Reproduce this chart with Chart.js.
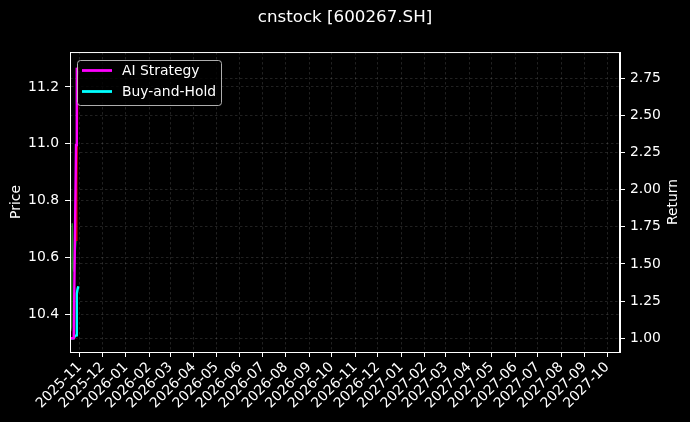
<!DOCTYPE html>
<html>
<head>
<meta charset="utf-8">
<title>cnstock [600267.SH]</title>
<script src="https://cdn.jsdelivr.net/npm/chart.js@4.4.1/dist/chart.umd.min.js"></script>
<style>
  html, body { margin: 0; padding: 0; background: #000; }
  #wrap { width: 690px; height: 422px; }
</style>
</head>
<body>
<div id="wrap"><canvas id="chart" width="690" height="422"></canvas></div>
<script>
// Data
const dates = ["2025-10-20", "2025-10-21", "2025-10-22", "2025-10-23", "2025-10-24",
               "2025-10-27", "2025-10-28", "2025-10-29", "2025-10-30"];
const aiStrategy = [1.00, 1.00, 1.00, 1.00, 1.02, 2.30, 2.82, 2.78, 2.80];
const buyHold = [1.00, 1.00, 1.00, 1.00, 1.00, 1.02, 1.30, 1.33, 1.35];
const price = [10.34, 10.36, 10.72, 10.58, 10.55, 10.66, 10.85, 11.13, 11.27];

const monthLabels = ["2025-11", "2025-12", "2026-01", "2026-02", "2026-03", "2026-04",
  "2026-05", "2026-06", "2026-07", "2026-08", "2026-09", "2026-10", "2026-11", "2026-12",
  "2027-01", "2027-02", "2027-03", "2027-04", "2027-05", "2027-06", "2027-07", "2027-08",
  "2027-09", "2027-10"];
const priceTicks = [10.4, 10.6, 10.8, 11.0, 11.2];
const priceTickLabels = ["10.4", "10.6", "10.8", "11.0", "11.2"];
const returnTicks = [1.00, 1.25, 1.50, 1.75, 2.00, 2.25, 2.50, 2.75];
const returnTickLabels = ["1.00", "1.25", "1.50", "1.75", "2.00", "2.25", "2.50", "2.75"];

const DAY = 86400000;
const toDay = (s) => Date.parse(s + "T00:00:00Z") / DAY;

const FONT = "'DejaVu Sans', sans-serif";
const GRID = "rgba(255,255,255,0.22)";

// Top spine, right axis label (matplotlib reads bottom-to-top) and legend inside the axes
const framePlugin = {
  id: "frame",
  afterDatasetsDraw(chart) {
    const { ctx, chartArea: a } = chart;
    ctx.save();
    ctx.strokeStyle = "#fff";
    ctx.lineWidth = 1;
    ctx.strokeRect(a.left + 0.5, a.top + 0.5, a.right - a.left - 1, a.bottom - a.top);
    ctx.restore();
  },
  afterDraw(chart) {
    const { ctx, chartArea: a } = chart;
    ctx.save();
    ctx.font = "13.9px " + FONT;
    ctx.fillStyle = "#fff";
    ctx.translate(673, (a.top + a.bottom) / 2);
    ctx.rotate(-Math.PI / 2);
    ctx.textAlign = "center";
    ctx.textBaseline = "middle";
    ctx.fillText("Return", 0, 0);
    ctx.restore();

    const items = chart.data.datasets.filter((d) => d.label !== "Price");
    ctx.save();
    ctx.beginPath();
    ctx.roundRect(77.5, 60.5, 144, 45, 3);
    ctx.fillStyle = "rgba(0,0,0,0.8)";
    ctx.fill();
    ctx.strokeStyle = "rgba(204,204,204,0.85)";
    ctx.lineWidth = 1;
    ctx.stroke();
    ctx.font = "13.9px " + FONT;
    ctx.textBaseline = "middle";
    items.forEach((d, i) => {
      const y = 70.5 + i * 21;
      ctx.strokeStyle = d.borderColor;
      ctx.lineWidth = 2.8;
      ctx.beginPath();
      ctx.moveTo(82, y);
      ctx.lineTo(112, y);
      ctx.stroke();
      ctx.fillStyle = "#fff";
      ctx.fillText(d.label, 122, y + 1);
    });
    ctx.restore();
  },
};

const ctx = document.getElementById("chart").getContext("2d");
new Chart(ctx, {
  type: "line",
  data: {
    datasets: [
      {
        label: "AI Strategy",
        data: dates.map((d, i) => ({ x: toDay(d), y: aiStrategy[i] })),
        borderColor: "#ff00ff",
        borderWidth: 2.4,
        yAxisID: "yR",
      },
      {
        label: "Buy-and-Hold",
        data: dates.map((d, i) => ({ x: toDay(d), y: buyHold[i] })),
        borderColor: "#00ffff",
        borderWidth: 2.4,
        yAxisID: "yR",
      },
      {
        label: "Price",
        data: dates.map((d, i) => ({ x: toDay(d), y: price[i] })),
        borderColor: "rgba(44,160,44,0.8)",
        borderWidth: 1.5,
        yAxisID: "yL",
        segment: {
          borderColor: (c) => (c.p0DataIndex < 5 ? "rgba(44,160,44,0.8)" : "rgba(255,0,0,0.85)"),
        },
      },
    ],
  },
  options: {
    responsive: false,
    animation: false,
    layout: { padding: 0 },
    elements: { point: { radius: 0 }, line: { tension: 0 } },
    plugins: {
      legend: { display: false },
      tooltip: { enabled: false },
      title: {
        display: true,
        text: "cnstock [600267.SH]",
        color: "#fff",
        font: { family: FONT, size: 16.7, weight: "normal", lineHeight: 1.2 },
        padding: { top: 8, bottom: 24 },
      },
    },
    scales: {
      x: {
        type: "linear",
        min: toDay("2025-10-19"),
        max: toDay("2027-10-18"),
        afterBuildTicks: (scale) => {
          scale.ticks = monthLabels.map((m) => ({ value: toDay(m + "-01") }));
        },
        afterFit: (scale) => { scale.height = 70; },
        ticks: {
          autoSkip: false,
          maxRotation: 45,
          minRotation: 45,
          padding: 2,
          color: "#fff",
          font: { family: FONT, size: 13.9 },
          callback: (v, i) => monthLabels[i],
        },
        grid: { color: GRID, lineWidth: 0.6, tickColor: "#fff", tickLength: 5, tickWidth: 1 },
        border: { color: "#fff", width: 1, dash: [2.5, 2.5] },
      },
      yL: {
        position: "left",
        min: 10.267,
        max: 11.323,
        afterBuildTicks: (scale) => {
          scale.ticks = priceTicks.map((v) => ({ value: v }));
        },
        afterFit: (scale) => { scale.width = 70; },
        ticks: {
          padding: 6,
          color: "#fff",
          font: { family: FONT, size: 13.9 },
          callback: (v, i) => priceTickLabels[i],
        },
        title: {
          display: true,
          text: "Price",
          color: "#fff",
          font: { family: FONT, size: 13.9 },
          padding: { top: 8, bottom: 0 },
        },
        grid: { color: GRID, lineWidth: 0.6, tickColor: "#fff", tickLength: 5, tickWidth: 1 },
        border: { color: "#fff", width: 1, dash: [2.5, 2.5] },
      },
      yR: {
        position: "right",
        min: 0.908,
        max: 2.925,
        afterBuildTicks: (scale) => {
          scale.ticks = returnTicks.map((v) => ({ value: v }));
        },
        afterFit: (scale) => { scale.width = 70; },
        ticks: {
          padding: 5,
          color: "#fff",
          font: { family: FONT, size: 13.9 },
          callback: (v, i) => returnTickLabels[i],
        },
        grid: { color: GRID, lineWidth: 0.6, tickColor: "#fff", tickLength: 5, tickWidth: 1 },
        border: { color: "#fff", width: 1, dash: [2.5, 2.5] },
      },
    },
  },
  plugins: [framePlugin],
});
</script>
</body>
</html>
